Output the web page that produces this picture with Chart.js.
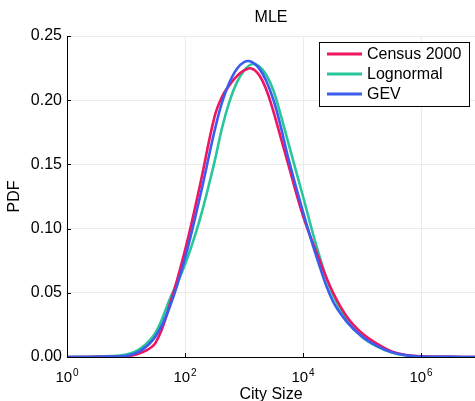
<!DOCTYPE html>
<html>
<head>
<meta charset="utf-8">
<title>MLE</title>
<script src="https://cdn.jsdelivr.net/npm/chart.js@4.4.1/dist/chart.umd.min.js"></script>
<style>
  html, body { margin: 0; padding: 0; background: #ffffff; }
  #wrap { width: 475px; height: 401px; }
</style>
</head>
<body>
<div id="wrap"><canvas id="pdfChart" width="475" height="401"></canvas></div>
<script>
// City size on a log axis: exponents of 10 where each density is sampled
const citySizeExponents = [0, 0.5, 1, 1.25, 1.5, 1.75, 2, 2.25, 2.5, 2.625, 2.75, 2.875, 3, 3.125, 3.25,
                           3.375, 3.5, 3.625, 3.75, 4, 4.25, 4.5, 4.75, 5, 5.25, 5.5, 5.75, 6, 6.5, 6.92];

// Density values (PDF) for each series, one per exponent above
const census2000 = [0, 0.0001, 0.0005, 0.0032, 0.0110, 0.0420, 0.0830, 0.1330, 0.1870, 0.2025, 0.2115, 0.2185, 0.2232,
                    0.2247, 0.2200, 0.2085, 0.1910, 0.1705, 0.1500, 0.1100, 0.0790, 0.0510, 0.0310, 0.0185, 0.0105,
                    0.0044, 0.0016, 0.0005, 0.0001, 0];
const lognormalFit = [0, 0.0004, 0.0019, 0.0068, 0.0190, 0.0460, 0.0720, 0.1070, 0.1520, 0.1780, 0.1985, 0.2135, 0.2230,
                      0.2279, 0.2266, 0.2198, 0.2074, 0.1880, 0.1670, 0.1250, 0.0830, 0.0490, 0.0280, 0.0155, 0.0082,
                      0.0035, 0.0012, 0.0004, 0.0001, 0];
const gevFit = [0, 0.0002, 0.0010, 0.0050, 0.0160, 0.0400, 0.0770, 0.1240, 0.1760, 0.1980, 0.2135, 0.2242, 0.2297,
                0.2300, 0.2252, 0.2152, 0.2000, 0.1790, 0.1550, 0.1130, 0.0750, 0.0440, 0.0270, 0.0160, 0.0087,
                0.0038, 0.0013, 0.0004, 0.0001, 0];

const seriesLabels = ['Census 2000', 'Lognormal', 'GEV'];

// Axis ticks
const xTickExponents = [0, 2, 4, 6];
const yTickValues = [0, 0.05, 0.10, 0.15, 0.20, 0.25];
const xMaxExponent = 6.915;

const FONT = "'Liberation Sans', Arial, Helvetica, sans-serif";
const colors = {
    census: '#ef1561',
    lognormal: '#29c59b',
    gev: '#3b5ced',
    grid: '#ebebeb',
    axis: '#000000'
};
const seriesColors = [colors.census, colors.lognormal, colors.gev];

function toPoints(values) {
    return values.map((v, i) => ({ x: Math.pow(10, citySizeExponents[i]), y: v }));
}

// Inward tick marks, 10^n tick labels and the boxed legend
const frameExtras = {
    id: 'frameExtras',
    afterDraw(chart) {
        const { ctx, chartArea, scales } = chart;
        const xs = scales.x;
        const ys = scales.y;
        ctx.save();

        ctx.strokeStyle = colors.axis;
        ctx.lineWidth = 1;
        xs.ticks.forEach(t => {
            const px = Math.round(xs.getPixelForValue(t.value)) + 0.5;
            ctx.beginPath();
            ctx.moveTo(px, chartArea.bottom);
            ctx.lineTo(px, chartArea.bottom - 4);
            ctx.stroke();
        });
        ys.ticks.forEach(t => {
            const py = Math.round(ys.getPixelForValue(t.value)) + 0.5;
            ctx.beginPath();
            ctx.moveTo(chartArea.left, py);
            ctx.lineTo(chartArea.left + 4, py);
            ctx.stroke();
        });

        // "10" with a raised exponent under each x tick
        ctx.fillStyle = '#000';
        ctx.textBaseline = 'alphabetic';
        ctx.textAlign = 'left';
        xs.ticks.forEach(t => {
            const px = xs.getPixelForValue(t.value);
            const exp = String(Math.round(Math.log10(t.value)));
            ctx.font = '15px ' + FONT;
            const baseW = ctx.measureText('10').width;
            ctx.font = '10px ' + FONT;
            const expW = ctx.measureText(exp).width;
            const x0 = px - (baseW + 1 + expW) / 2;
            ctx.font = '15px ' + FONT;
            ctx.fillText('10', x0, 382);
            ctx.font = '10px ' + FONT;
            ctx.fillText(exp, x0 + baseW + 1, 375.5);
        });

        // legend
        const box = { left: 319.5, top: 42.5, width: 150, height: 64 };
        ctx.fillStyle = '#ffffff';
        ctx.fillRect(box.left, box.top, box.width, box.height);
        ctx.strokeStyle = '#000';
        ctx.lineWidth = 1;
        ctx.strokeRect(box.left, box.top, box.width, box.height);
        ctx.font = '16px ' + FONT;
        ctx.textBaseline = 'middle';
        seriesLabels.forEach((label, i) => {
            const rowY = 54 + i * 20;
            ctx.strokeStyle = seriesColors[i];
            ctx.lineWidth = 3;
            ctx.beginPath();
            ctx.moveTo(327, rowY);
            ctx.lineTo(362, rowY);
            ctx.stroke();
            ctx.fillStyle = '#000';
            ctx.fillText(label, 367, rowY + 0.5);
        });

        ctx.restore();
    }
};

const lineStyle = color => ({
    borderColor: color,
    backgroundColor: color,
    borderWidth: 2.6,
    pointRadius: 0,
    fill: false,
    tension: 0.4
});

const ctx = document.getElementById('pdfChart').getContext('2d');
const pdfChart = new Chart(ctx, {
    type: 'line',
    data: {
        datasets: [
            { label: seriesLabels[0], data: toPoints(census2000), order: 1, ...lineStyle(colors.census) },
            { label: seriesLabels[1], data: toPoints(lognormalFit), order: 2, ...lineStyle(colors.lognormal) },
            { label: seriesLabels[2], data: toPoints(gevFit), order: 0, ...lineStyle(colors.gev) }
        ]
    },
    options: {
        responsive: false,
        animation: false,
        events: [],
        layout: { padding: 0 },
        plugins: {
            legend: { display: false },
            tooltip: { enabled: false },
            title: {
                display: true,
                text: 'MLE',
                fullSize: false,
                color: '#000',
                font: { family: FONT, size: 16, weight: 'normal', lineHeight: 1.2 },
                padding: { top: 8, bottom: 8.8 }
            }
        },
        scales: {
            x: {
                type: 'logarithmic',
                min: 1,
                max: Math.pow(10, xMaxExponent),
                afterBuildTicks: scale => {
                    scale.ticks = xTickExponents.map(e => ({ value: Math.pow(10, e) }));
                },
                afterFit: scale => { scale.height = 44; },
                ticks: { callback: () => '', autoSkip: false },
                grid: {
                    color: c => (c.tick && c.tick.value === 1 ? 'rgba(0,0,0,0)' : colors.grid),
                    lineWidth: 1,
                    drawTicks: false
                },
                border: { display: true, color: colors.axis, width: 1 },
                title: {
                    display: true,
                    text: 'City Size',
                    color: '#000',
                    font: { family: FONT, size: 16, lineHeight: 1 },
                    padding: { top: 0, bottom: -2 }
                }
            },
            y: {
                type: 'linear',
                min: 0,
                max: 0.25,
                afterBuildTicks: scale => {
                    scale.ticks = yTickValues.map(v => ({ value: v }));
                },
                afterFit: scale => { scale.width = 67; },
                ticks: {
                    callback: v => Number(v).toFixed(2),
                    color: '#000',
                    padding: 5,
                    font: { family: FONT, size: 16 }
                },
                grid: {
                    color: c => (c.tick && c.tick.value === 0 ? 'rgba(0,0,0,0)' : colors.grid),
                    lineWidth: 1,
                    drawTicks: false
                },
                border: { display: true, color: colors.axis, width: 1 },
                title: {
                    display: true,
                    text: 'PDF',
                    color: '#000',
                    font: { family: FONT, size: 16, lineHeight: 1 },
                    padding: { top: 7, bottom: 0 }
                }
            }
        }
    },
    plugins: [frameExtras]
});
</script>
</body>
</html>
